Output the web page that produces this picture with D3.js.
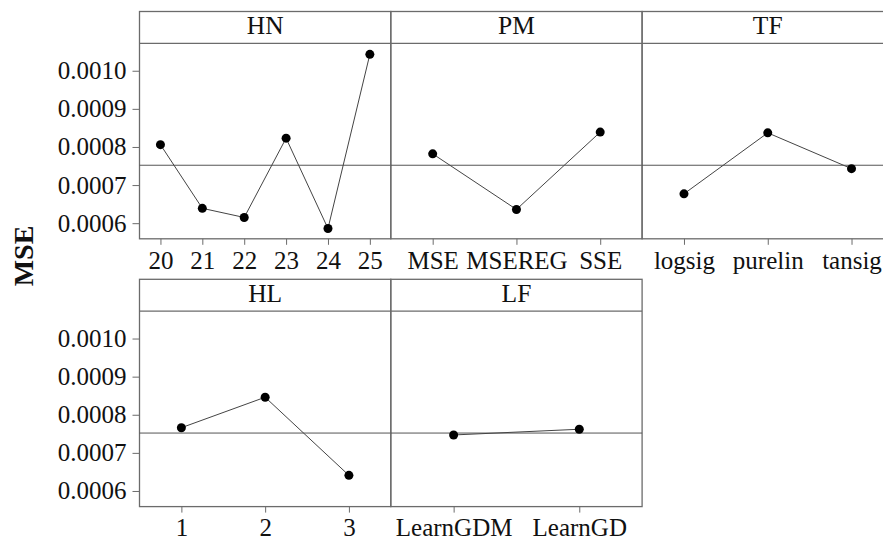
<!DOCTYPE html>
<html>
<head>
<meta charset="utf-8">
<script src="https://cdn.jsdelivr.net/npm/d3@7"></script>
<style>
  body { margin: 0; background: #fff; }
  text { font-family: "Liberation Serif", "Times New Roman", serif; fill: #111; }
</style>
</head>
<body>
<div id="chart"></div>
<script>
// main effects data (mean MSE per level)
var factors = ["HN", "PM", "TF", "HL", "LF"];
var hnLevels = ["20", "21", "22", "23", "24", "25"];
var hnMeans = [0.000806, 0.000639, 0.000615, 0.000823, 0.000586, 0.001043];
var pmLevels = ["MSE", "MSEREG", "SSE"];
var pmMeans = [0.000782, 0.000636, 0.000839];
var tfLevels = ["logsig", "purelin", "tansig"];
var tfMeans = [0.000677, 0.000837, 0.000743];
var hlLevels = ["1", "2", "3"];
var hlMeans = [0.000766, 0.000846, 0.000641];
var lfLevels = ["LearnGDM", "LearnGD"];
var lfMeans = [0.000747, 0.000762];
var yTicks = [0.0006, 0.0007, 0.0008, 0.0009, 0.0010];
var grandMean = 0.000752;

var panels = [
  { name: factors[0], levels: hnLevels, means: hnMeans, row: 0, col: 0 },
  { name: factors[1], levels: pmLevels, means: pmMeans, row: 0, col: 1 },
  { name: factors[2], levels: tfLevels, means: tfMeans, row: 0, col: 2 },
  { name: factors[3], levels: hlLevels, means: hlMeans, row: 1, col: 0 },
  { name: factors[4], levels: lfLevels, means: lfMeans, row: 1, col: 1 }
];

var width = 883,
  height = 543,
  left = 139.5,
  panelW = 251.3,
  rowTop = [11.5, 279.3],
  stripH = 31.8,
  plotH = 195.5,
  border = "#6b6b6b";

var svg = d3.select("#chart")
  .append("svg")
  .attr("width", width)
  .attr("height", height);

// y axis title
svg.append("text")
  .attr("transform", "translate(33,256) rotate(-90)")
  .attr("text-anchor", "middle")
  .attr("font-size", "28px")
  .attr("font-weight", "bold")
  .text("MSE");

panels.forEach(function(p) {
  var x0 = left + p.col * panelW,
    top = rowTop[p.row],
    plotTop = top + stripH,
    plotBottom = plotTop + plotH;

  var x = d3.scalePoint()
    .domain(p.levels)
    .range([x0, x0 + panelW])
    .padding(0.5);

  var y = d3.scaleLinear()
    .domain([0.000559, 0.001072])
    .range([plotBottom, plotTop]);

  var g = svg.append("g");

  // strip and plot frame
  g.append("rect")
    .attr("x", x0).attr("y", top)
    .attr("width", panelW).attr("height", stripH + plotH)
    .attr("fill", "none")
    .attr("stroke", border)
    .attr("stroke-width", 1.3);

  g.append("line")
    .attr("x1", x0).attr("x2", x0 + panelW)
    .attr("y1", plotTop).attr("y2", plotTop)
    .attr("stroke", border)
    .attr("stroke-width", 1.3);

  g.append("text")
    .attr("x", x0 + panelW / 2)
    .attr("y", top + stripH / 2 + 7)
    .attr("text-anchor", "middle")
    .attr("font-size", "25.5px")
    .text(p.name);

  // grand mean reference line
  g.append("line")
    .attr("x1", x0).attr("x2", x0 + panelW)
    .attr("y1", y(grandMean)).attr("y2", y(grandMean))
    .attr("stroke", "#555")
    .attr("stroke-width", 1);

  // x axis
  var xAxis = g.append("g")
    .attr("transform", "translate(0," + plotBottom + ")")
    .call(d3.axisBottom(x).tickSize(6).tickPadding(6));
  xAxis.select(".domain").remove();
  xAxis.selectAll(".tick line").attr("stroke", border);
  xAxis.selectAll(".tick text")
    .attr("font-size", "25px")
    .attr("fill", "#111");

  // y axis only on first column
  if (p.col === 0) {
    var yAxis = g.append("g")
      .attr("transform", "translate(" + x0 + ",0)")
      .call(d3.axisLeft(y).tickValues(yTicks).tickFormat(d3.format(".4f")).tickSize(7).tickPadding(6));
    yAxis.select(".domain").remove();
    yAxis.selectAll(".tick line").attr("stroke", border);
    yAxis.selectAll(".tick text")
      .attr("font-size", "25px")
      .attr("fill", "#111");
  }

  var line = d3.line()
    .x(function(d, i) { return x(p.levels[i]); })
    .y(function(d) { return y(d); });

  g.append("path")
    .datum(p.means)
    .attr("d", line)
    .attr("fill", "none")
    .attr("stroke", "#444")
    .attr("stroke-width", 1);

  g.selectAll("circle")
    .data(p.means)
    .enter()
    .append("circle")
    .attr("cx", function(d, i) { return x(p.levels[i]); })
    .attr("cy", function(d) { return y(d); })
    .attr("r", 4.5)
    .attr("fill", "#000");
});
</script>
</body>
</html>
